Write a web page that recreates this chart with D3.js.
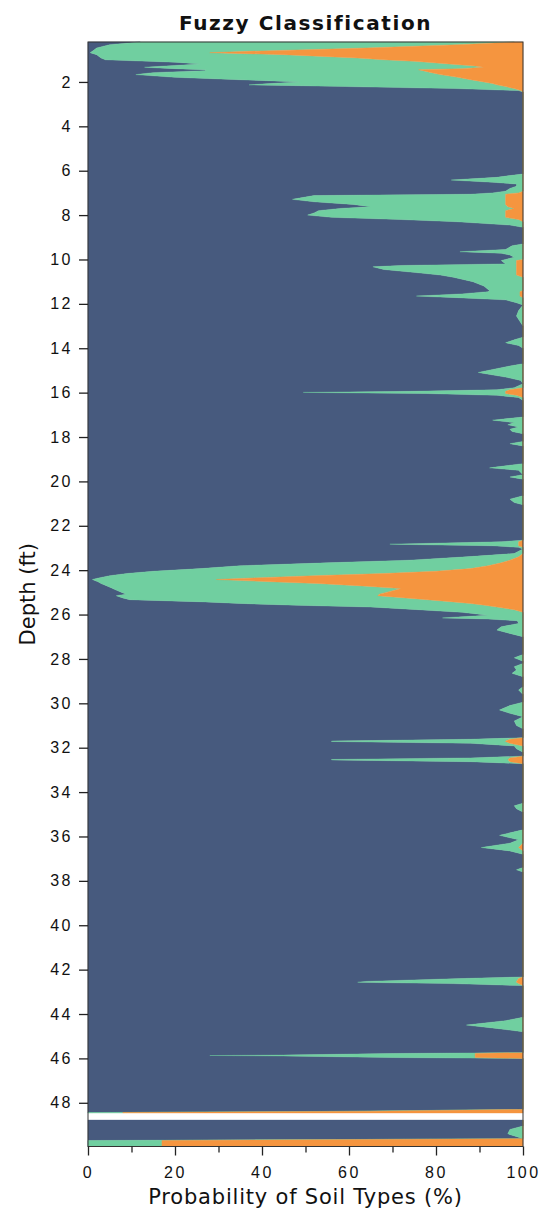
<!DOCTYPE html>
<html>
<head>
<meta charset="utf-8">
<script src="https://cdn.jsdelivr.net/npm/d3@7"></script>
<style>
  body { margin: 0; background: #fff; }
  svg { display: block; }
</style>
</head>
<body>
<div id="chart"></div>
<script>
// depth (ft) and probability (%) of each soil type
const depth = [
  0.20, 0.32, 0.47, 0.62, 0.68, 0.77, 0.92, 1.00, 1.07, 1.11,
  1.19, 1.28, 1.34, 1.40, 1.45, 1.49, 1.58, 1.67, 1.79, 1.90,
  2.00, 2.07, 2.13, 2.21, 2.30, 2.39, 2.45, 6.15, 6.22, 6.30,
  6.42, 6.52, 6.60, 6.70, 6.80, 6.92, 7.00, 7.06, 7.12, 7.29,
  7.40, 7.52, 7.62, 7.70, 7.80, 7.90, 8.00, 8.10, 8.20, 8.30,
  8.45, 8.55, 9.30, 9.38, 9.55, 9.65, 9.72, 9.80, 9.90, 10.00,
  10.05, 10.20, 10.27, 10.33, 10.45, 10.60, 10.70, 10.80, 11.00, 11.20,
  11.40, 11.45, 11.55, 11.65, 11.72, 11.82, 11.95, 12.05, 12.30, 12.55,
  12.85, 13.00, 13.50, 13.62, 13.75, 13.88, 14.00, 14.70, 14.80, 15.09,
  15.30, 15.45, 15.60, 15.78, 15.87, 15.94, 15.99, 16.04, 16.12, 16.22,
  16.35, 17.10, 17.24, 17.35, 17.45, 17.55, 17.65, 17.75, 17.85, 18.20,
  18.30, 18.40, 19.20, 19.39, 19.50, 19.70, 19.80, 19.90, 20.65, 20.80,
  20.95, 21.05, 22.65, 22.72, 22.83, 22.90, 22.97, 23.05, 23.15, 23.25,
  23.40, 23.55, 23.67, 23.80, 23.93, 24.05, 24.15, 24.25, 24.35, 24.42,
  24.52, 24.60, 24.72, 24.83, 24.98, 25.08, 25.15, 25.25, 25.33, 25.43,
  25.50, 25.58, 25.66, 25.78, 25.90, 26.03, 26.10, 26.15, 26.20, 26.28,
  26.40, 26.55, 26.70, 26.85, 27.00, 27.80, 27.95, 28.10, 28.20, 28.35,
  28.50, 28.65, 28.80, 29.25, 29.40, 29.60, 29.95, 30.10, 30.30, 30.45,
  30.60, 30.80, 31.00, 31.15, 31.55, 31.62, 31.70, 31.72, 31.80, 31.92,
  32.05, 32.20, 32.38, 32.46, 32.53, 32.55, 32.63, 32.72, 34.50, 34.62,
  34.75, 34.90, 35.70, 35.95, 36.15, 36.30, 36.50, 36.65, 36.80, 37.40,
  37.50, 37.60, 42.33, 42.40, 42.53, 42.57, 42.63, 42.72, 44.15, 44.30,
  44.50, 44.65, 44.80, 45.74, 45.78, 45.85, 45.87, 45.89, 45.96, 46.00,
  48.30, 48.38, 48.44, 48.46, 48.60, 48.78, 49.05, 49.20, 49.40, 49.55,
  49.62, 49.70, 49.97
];

const clay = [
  12, 5, 2, 1, 0.5, 2, 3, 4, 14, 20,
  26, 18, 13, 20, 27, 27, 15, 11, 20, 35,
  49, 42, 37, 60, 85, 99, 100, 100, 97, 94,
  83.5, 93, 98.5, 98.5, 97, 96, 93, 88, 52, 47,
  52, 61, 65, 58, 53, 52, 50.5, 56, 72, 85,
  97, 100, 100, 97.5, 96, 85.5, 95, 97, 98, 96,
  95, 96, 72, 65.5, 68, 76, 81, 84, 88.5, 91,
  92.3, 92, 86, 75.5, 85, 96, 98.5, 100, 99, 98.5,
  99.5, 100, 100, 98, 96, 99, 100, 100, 97, 89.7,
  96, 99.5, 100, 98, 94, 75, 49.5, 78, 94, 99,
  100, 100, 93, 98, 96.5, 99, 97, 97.5, 100, 100,
  97, 100, 100, 92.3, 99, 100, 97, 100, 100, 97,
  98, 100, 100, 95, 69.4, 93, 99, 100, 99, 98,
  87, 74, 55, 35, 26, 15, 9, 5, 2.5, 1,
  2.3, 3, 4.5, 5.7, 7.5, 8.8, 6.5, 8, 9.6, 27,
  35, 48, 65, 76, 86, 92, 86, 81.5, 92, 98.7,
  99, 95, 94, 97, 100, 100, 98, 100, 100, 98,
  98.5, 97.5, 100, 100, 99, 100, 100, 97, 94.6, 97,
  100, 98, 98.5, 100, 100, 88, 56, 56, 88, 98,
  98.5, 100, 100, 88, 56, 56, 88, 100, 100, 98,
  98.5, 100, 100, 94.6, 99, 97, 90.4, 97, 100, 100,
  98.5, 100, 100, 86, 64, 62, 84, 100, 100, 96,
  87, 94, 100, 100, 70, 45, 28, 45, 70, 100,
  100, 60, 0, 0, null, 100, 100, 97, 96.5, 99,
  100, 0, 0
];

const silt = [
  86, 80, 62, 36, 27.5, 43, 59, 64, 61, 58,
  57, 71, 78, 66, 49, 50, 64, 70, 65, 53,
  42, 51, 57, 36, 13, 0.5, 0, 0, 3, 6,
  16.5, 7, 1.5, 1.5, 3, 4, 6, 8, 44, 49,
  44, 35, 31.5, 40, 43, 44, 45.5, 40, 27, 15,
  3, 0, 0, 2.5, 4, 14.5, 5, 3, 2, 4,
  3.5, 2.5, 26.5, 33, 30.5, 22.5, 17.5, 16, 11.5, 9,
  7.7, 7.3, 13.3, 23.8, 15, 4, 1.5, 0, 1, 1.5,
  0.5, 0, 0, 2, 4, 1, 0, 0, 3, 10.3,
  4, 0.5, 0, 2, 3, 21, 46.5, 18, 4.5, 1,
  0, 0, 7, 2, 3.5, 1, 3, 2.5, 0, 0,
  3, 0, 0, 7.7, 1, 0, 3, 0, 0, 3,
  2, 0, 0, 4, 29.6, 6, 1, 0, 1, 2,
  12, 23, 40, 57, 62, 65, 59, 47, 35.5, 28.5,
  39.7, 49.8, 59.5, 66.3, 61.5, 58.2, 60.1, 65, 68.4, 57,
  53, 43.2, 29, 22, 14, 8, 14, 18.5, 8, 1.3,
  1, 5, 6, 3, 0, 0, 2, 0, 0, 2,
  1.5, 2.5, 0, 0, 1, 0, 0, 3, 5.4, 3,
  0, 2, 1.5, 0, 0, 9, 40, 40, 9, 2,
  1.5, 0, 0, 9, 40.6, 40.6, 9, 0, 0, 2,
  1.5, 0, 0, 5.4, 1, 3, 8.6, 3, 0, 0,
  1.5, 0, 0, 13, 34.5, 36.5, 15, 0, 0, 4,
  13, 6, 0, 0, 19, 44, 61, 44, 19, 0,
  0, 5, 8, 8, null, 0, 0, 3, 3.5, 1,
  0, 17, 17
];

const sand = [
  2, 15, 36, 63, 72, 55, 38, 32, 25, 22,
  17, 11, 9, 14, 24, 23, 21, 19, 15, 12,
  9, 7, 6, 4, 2, 0.5, 0, 0, 0, 0,
  0, 0, 0, 0, 0, 0, 1, 4, 4, 4,
  4, 4, 3.5, 2, 4, 4, 4, 4, 1, 0,
  0, 0, 0, 0, 0, 0, 0, 0, 0, 0,
  1.5, 1.5, 1.5, 1.5, 1.5, 1.5, 1.5, 0, 0, 0,
  0, 0.7, 0.7, 0.7, 0, 0, 0, 0, 0, 0,
  0, 0, 0, 0, 0, 0, 0, 0, 0, 0,
  0, 0, 0, 0, 3, 4, 4, 4, 1.5, 0,
  0, 0, 0, 0, 0, 0, 0, 0, 0, 0,
  0, 0, 0, 0, 0, 0, 0, 0, 0, 0,
  0, 0, 0, 1, 1, 1, 0, 0, 0, 0,
  1, 3, 5, 8, 12, 20, 32, 48, 62, 70.5,
  58, 47.2, 36, 28, 31, 33, 33.4, 27, 22, 16,
  12, 8.8, 6, 2, 0, 0, 0, 0, 0, 0,
  0, 0, 0, 0, 0, 0, 0, 0, 0, 0,
  0, 0, 0, 0, 0, 0, 0, 0, 0, 0,
  0, 0, 0, 0, 0, 3, 4, 4, 3, 0,
  0, 0, 0, 3, 3.4, 3.4, 3, 0, 0, 0,
  0, 0, 0, 0, 0, 0, 1, 0, 0, 0,
  0, 0, 0, 1, 1.5, 1.5, 1, 0, 0, 0,
  0, 0, 0, 0, 11, 11, 11, 11, 11, 0,
  0, 35, 92, 92, null, 0, 0, 0, 0, 0,
  0, 83, 83
];

const soilTypes = ["clay", "silt", "sand"];
const pallete = ["#475a7e", "#70cfa0", "#f5953f"];
const depthTicks = [2, 4, 6, 8, 10, 12, 14, 16, 18, 20, 22, 24, 26, 28, 30, 32, 34, 36, 38, 40, 42, 44, 46, 48];
const probTicks = [0, 20, 40, 60, 80, 100];
const probMinorTicks = [10, 30, 50, 70, 90];

const width = 550;
const height = 1213;
const marginTop = 42;
const marginRight = 27;
const marginBottom = 66.5;
const marginLeft = 88;

const rows = depth.map((d, i) => ({depth: d, clay: clay[i], silt: silt[i], sand: sand[i]}));

const series = d3.stack()
    .keys(soilTypes)
    .value((d, key) => d[key] ?? 0)(rows);

const x = d3.scaleLinear()
    .domain([0, 100])
    .range([marginLeft, width - marginRight]);

const y = d3.scaleLinear()
    .domain([0.2, 49.97])
    .range([marginTop, height - marginBottom]);

const svg = d3.select("#chart")
  .append("svg")
    .attr("width", width)
    .attr("height", height)
    .attr("viewBox", [0, 0, width, height])
    .style("font-family", "'DejaVu Sans', Verdana, sans-serif");

const area = d3.area()
    .defined(d => d.data.clay !== null)
    .y(d => y(d.data.depth))
    .x0(d => x(d[0]))
    .x1(d => x(d[1]));

svg.append("g")
  .selectAll()
  .data(series)
  .join("path")
    .attr("fill", (d, i) => pallete[i])
    .attr("stroke", (d, i) => pallete[i])
    .attr("stroke-width", 0.4)
    .attr("d", area);

// frame
svg.append("rect")
    .attr("x", marginLeft)
    .attr("y", marginTop)
    .attr("width", width - marginLeft - marginRight)
    .attr("height", height - marginTop - marginBottom)
    .attr("fill", "none")
    .attr("stroke", "#333")
    .attr("stroke-width", 1);

const styleAxis = g => {
  g.select(".domain").remove();
  g.selectAll(".tick line").attr("stroke", "#222").attr("stroke-width", 1.3);
  g.selectAll(".tick text")
      .attr("fill", "#111")
      .style("font-size", "16px")
      .style("letter-spacing", "2.5px");
};

svg.append("g")
    .attr("transform", `translate(${marginLeft},0)`)
    .call(d3.axisLeft(y).tickValues(depthTicks).tickSize(9).tickPadding(6))
    .call(styleAxis);

svg.append("g")
    .attr("transform", `translate(0,${height - marginBottom})`)
    .call(d3.axisBottom(x).tickValues(probTicks).tickSize(9).tickPadding(11))
    .call(styleAxis);

svg.append("g")
    .attr("transform", `translate(0,${height - marginBottom})`)
    .call(d3.axisBottom(x).tickValues(probMinorTicks).tickSize(6).tickFormat(""))
    .call(styleAxis);

svg.append("text")
    .attr("x", (marginLeft + width - marginRight) / 2)
    .attr("y", 30)
    .attr("text-anchor", "middle")
    .attr("fill", "#111")
    .style("font-size", "20px")
    .style("font-weight", "bold")
    .style("letter-spacing", "1.6px")
    .text("Fuzzy Classification");

svg.append("text")
    .attr("x", (marginLeft + width - marginRight) / 2)
    .attr("y", 1204)
    .attr("text-anchor", "middle")
    .attr("fill", "#111")
    .style("font-size", "21px")
    .style("letter-spacing", "0.8px")
    .text("Probability of Soil Types (%)");

svg.append("text")
    .attr("transform", `translate(35,${(marginTop + height - marginBottom) / 2}) rotate(-90)`)
    .attr("text-anchor", "middle")
    .attr("fill", "#111")
    .style("font-size", "21px")
    .text("Depth (ft)");
</script>
</body>
</html>
